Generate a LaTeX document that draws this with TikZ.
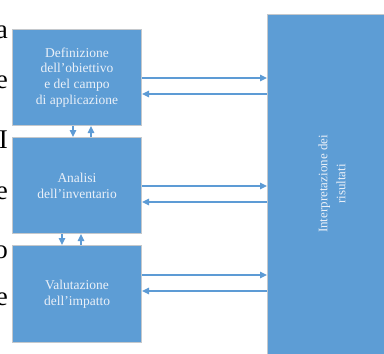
\documentclass[tikz,border=0pt]{standalone}
\usepackage{fontspec}
\setmainfont{Liberation Serif}
\usetikzlibrary{arrows.meta}
\definecolor{boxblue}{RGB}{93,157,213}
\definecolor{edgegray}{RGB}{196,200,204}
\definecolor{txtwhite}{RGB}{234,240,248}
\definecolor{arrowblue}{RGB}{93,155,213}
\tikzset{
  box/.style={draw=edgegray, line width=1pt, fill=boxblue, anchor=north west, inner sep=0pt,
    align=center, text=txtwhite, font=\fontsize{13.5}{15.8}\selectfont},
  link/.style={draw=arrowblue, line width=1.3pt, -{Triangle[length=7pt,width=6.5pt]}},
  frag/.style={anchor=base east, inner sep=0pt, font=\fontsize{27}{27}\selectfont}
}
\begin{document}
\begin{tikzpicture}[x=1pt,y=-1pt]
\useasboundingbox (0,0) rectangle (384,354);
\clip (0,0) rectangle (384,354);
% fragments of surrounding page text
\node[frag] (f1) at (8,38) {a};
\node[frag] (f2) at (8,88) {e};
\node[frag] (f3) at (8,148) {I};
\node[frag] (f4) at (8,199) {e};
\node[frag] (f5) at (8,258) {o};
\node[frag] (f6) at (8,305) {e};
% boxes
\node[box, minimum width=129pt, minimum height=96pt] (b1) at (12,29)
  {Definizione\\dell’obiettivo\\e del campo\\di applicazione};
\node[box, minimum width=129pt, minimum height=96pt] (b2) at (12,137)
  {Analisi\\dell’inventario};
\node[box, minimum width=129pt, minimum height=97pt] (b3) at (12,245)
  {Valutazione\\dell’impatto};
\node[box, minimum width=132pt, minimum height=360pt] (r) at (267,14) {};
\node[align=center, text=txtwhite, rotate=90, inner sep=0pt,
  font=\fontsize{13}{18}\selectfont] (rt) at (332,184) {Interpretazione dei\\risultati};
% horizontal arrows
\draw[link] (b1.east |- 0,78) -- (r.west |- 0,78);
\draw[link] (r.west |- 0,94) -- (b1.east |- 0,94);
\draw[link] (b2.east |- 0,186) -- (r.west |- 0,186);
\draw[link] (r.west |- 0,202) -- (b2.east |- 0,202);
\draw[link] (b3.east |- 0,275) -- (r.west |- 0,275);
\draw[link] (r.west |- 0,291) -- (b3.east |- 0,291);
% vertical arrows
\draw[link] (b1.south -| 73,0) -- (b2.north -| 73,0);
\draw[link] (b2.north -| 91,0) -- (b1.south -| 91,0);
\draw[link] (b2.south -| 62,0) -- (b3.north -| 62,0);
\draw[link] (b3.north -| 81,0) -- (b2.south -| 81,0);
\end{tikzpicture}
\end{document}
